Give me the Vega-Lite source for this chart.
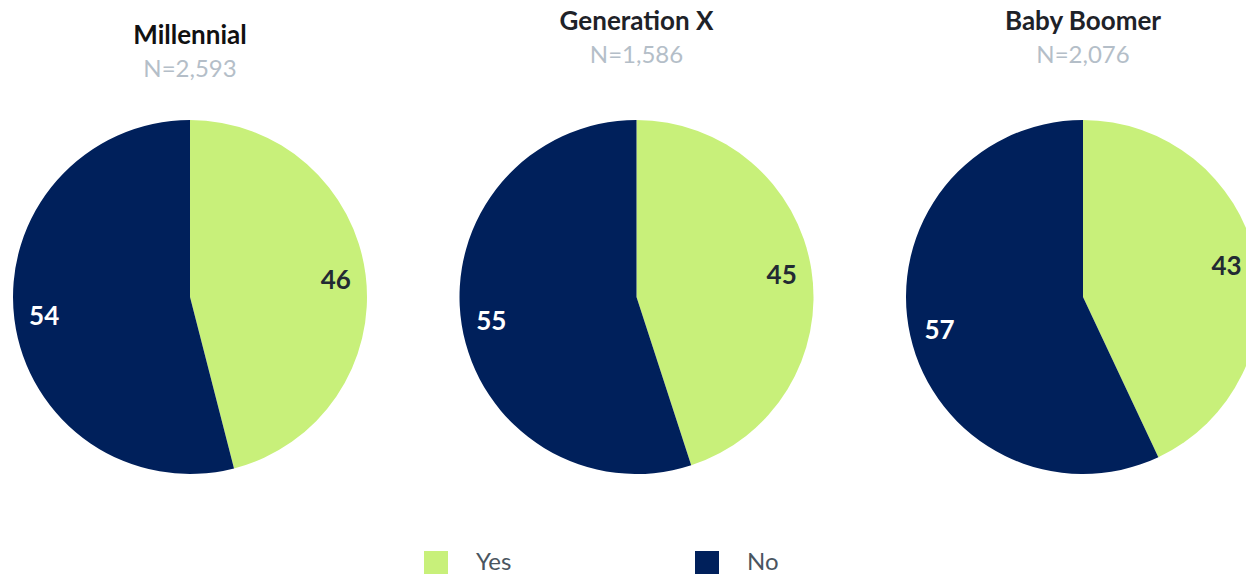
{
  "$schema": "https://vega.github.io/schema/vega-lite/v6.json",
  "width": 1246,
  "height": 594,
  "padding": 0,
  "background": "white",
  "config": {"view": {"stroke": null}, "font": "Lato"},
  "datasets": {
    "pie": [
      {"gen": "Millennial", "answer": "Yes", "value": 46},
      {"gen": "Millennial", "answer": "No", "value": 54},
      {"gen": "Generation X", "answer": "Yes", "value": 45},
      {"gen": "Generation X", "answer": "No", "value": 55},
      {"gen": "Baby Boomer", "answer": "Yes", "value": 43},
      {"gen": "Baby Boomer", "answer": "No", "value": 57}
    ],
    "titles": [
      {"gen": "Millennial", "kind": "title", "text": "Millennial"},
      {"gen": "Millennial", "kind": "n", "text": "N=2,593"},
      {"gen": "Generation X", "kind": "title", "text": "Generation X"},
      {"gen": "Generation X", "kind": "n", "text": "N=1,586"},
      {"gen": "Baby Boomer", "kind": "title", "text": "Baby Boomer"},
      {"gen": "Baby Boomer", "kind": "n", "text": "N=2,076"}
    ]
  },
  "layer": [
    {
      "data": {"name": "pie"},
      "transform": [
        {"stack": "value", "groupby": ["gen"], "sort": [{"field": "answer", "order": "descending"}], "as": ["v0", "v1"]}
      ],
      "layer": [
        {
          "mark": {"type": "arc", "outerRadius": 177, "stroke": null},
          "encoding": {
            "x": {"field": "gen", "type": "nominal", "axis": null,
                  "scale": {"type": "point", "domain": ["Millennial", "Generation X", "Baby Boomer"], "range": [190, 1083], "padding": 0}},
            "theta": {"field": "v0", "type": "quantitative", "scale": {"domain": [0, 100]}},
            "theta2": {"field": "v1"},
            "color": {"field": "answer", "type": "nominal",
                      "scale": {"domain": ["Yes", "No"], "range": ["#c8f07a", "#00205b"]},
                      "legend": {"title": null, "orient": "none", "legendX": 424, "legendY": 551,
                                 "direction": "horizontal", "symbolType": "square", "symbolSize": 576,
                                 "symbolStrokeWidth": 0, "labelFontSize": 24, "labelColor": "#4a5560",
                                 "labelOffset": 28, "columnPadding": 183, "labelFont": "Lato"}}
          }
        },
        {
          "transform": [{"calculate": "(datum.v0 + datum.v1) / 2", "as": "mid"}],
          "mark": {"type": "text", "radius": 147, "fontSize": 26, "fontWeight": "bold", "font": "Lato", "dy": 2},
          "encoding": {
            "x": {"field": "gen", "type": "nominal", "axis": null},
            "theta": {"field": "mid", "type": "quantitative", "scale": {"domain": [0, 100]}},
            "text": {"field": "value", "type": "quantitative"},
            "color": {"condition": {"test": "datum.answer == 'Yes'", "value": "#222a33"}, "value": "white"}
          }
        }
      ]
    },
    {
      "data": {"name": "titles"},
      "transform": [{"filter": "datum.gen == 'Millennial' && datum.kind == 'title'"}],
      "mark": {"type": "text", "baseline": "middle", "font": "Lato", "fontSize": 26, "fontWeight": "bold", "color": "#111111"},
      "encoding": {
        "x": {"field": "gen", "type": "nominal", "axis": null},
        "y": {"field": "kind", "type": "nominal", "axis": null,
              "scale": {"type": "point", "domain": ["title", "n"], "range": [36, 70], "padding": 0}},
        "text": {"field": "text"}
      }
    },
    {
      "data": {"name": "titles"},
      "transform": [{"filter": "datum.gen == 'Millennial' && datum.kind == 'n'"}],
      "mark": {"type": "text", "baseline": "middle", "font": "Lato", "fontSize": 24, "color": "#b4bec8"},
      "encoding": {
        "x": {"field": "gen", "type": "nominal", "axis": null},
        "y": {"field": "kind", "type": "nominal", "axis": null,
              "scale": {"type": "point", "domain": ["title", "n"], "range": [36, 70], "padding": 0}},
        "text": {"field": "text"}
      }
    },
    {
      "data": {"name": "titles"},
      "transform": [{"filter": "datum.gen != 'Millennial' && datum.kind == 'title'"}],
      "mark": {"type": "text", "baseline": "middle", "font": "Lato", "fontSize": 26, "fontWeight": "bold", "color": "#1e2228"},
      "encoding": {
        "x": {"field": "gen", "type": "nominal", "axis": null},
        "y": {"field": "kind", "type": "nominal", "axis": null,
              "scale": {"type": "point", "domain": ["title", "n"], "range": [22, 56], "padding": 0}},
        "text": {"field": "text"}
      }
    },
    {
      "data": {"name": "titles"},
      "transform": [{"filter": "datum.gen != 'Millennial' && datum.kind == 'n'"}],
      "mark": {"type": "text", "baseline": "middle", "font": "Lato", "fontSize": 24, "color": "#b4bec8"},
      "encoding": {
        "x": {"field": "gen", "type": "nominal", "axis": null},
        "y": {"field": "kind", "type": "nominal", "axis": null,
              "scale": {"type": "point", "domain": ["title", "n"], "range": [22, 56], "padding": 0}},
        "text": {"field": "text"}
      }
    }
  ],
  "resolve": {"scale": {"y": "independent"}}
}
